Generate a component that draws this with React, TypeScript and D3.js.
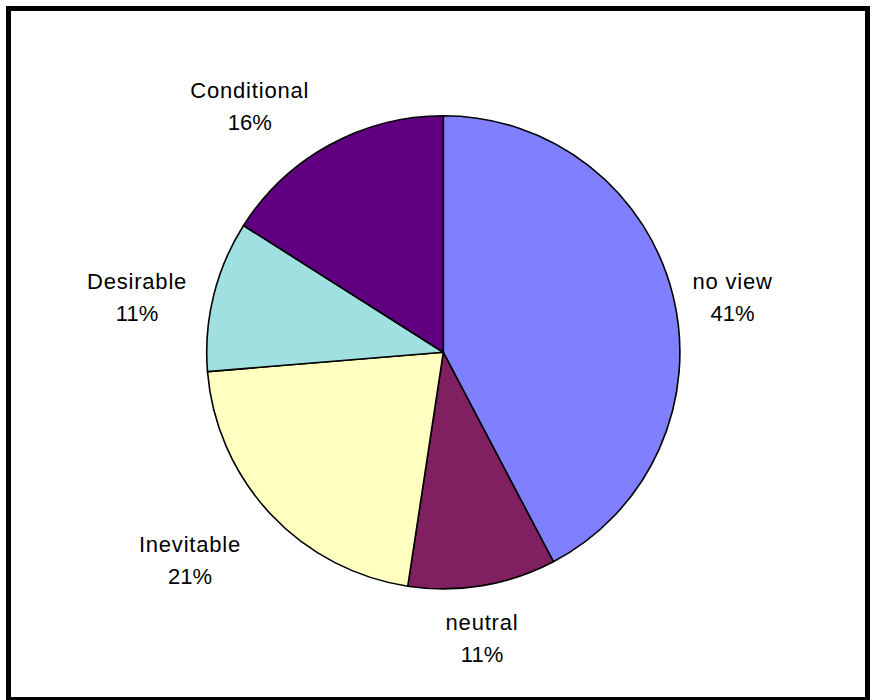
import React from "react";
import * as d3 from "d3";

const categories = ["no view", "neutral", "Inevitable", "Desirable", "Conditional"];
const values = [42.3, 10.1, 21.3, 10.3, 16.0];
const percentLabels = ["41%", "11%", "21%", "11%", "16%"];
const colors = ["#8080FF", "#802060", "#FFFFC0", "#A0E0E0", "#600080"];

const W = 874;
const H = 700;
const cx = 443.3;
const cy = 352.3;
const R = 236.6;
const labelR = 300;
// per-label nudges (px) relative to centroid at labelR
const nudges: [number, number][] = [
  [-2, 17],
  [-11, -10],
  [-34, 3],
  [-15, 17],
  [-49, 17],
];
const FONT = 22;
const LINE = 32;

export default function App() {
  const pie = d3.pie<number>().sort(null).value((d) => d);
  const arcs = pie(values);
  const arc = d3.arc<d3.PieArcDatum<number>>().innerRadius(0).outerRadius(R);
  const labelArc = d3.arc<d3.PieArcDatum<number>>().innerRadius(labelR).outerRadius(labelR);

  return (
    <svg
      width={W}
      height={H}
      style={{ position: "absolute", left: 0, top: 0, background: "#fff" }}
      fontFamily="'Liberation Sans', Arial, sans-serif"
    >
      <rect x={8.5} y={8.5} width={859} height={691} fill="#fff" stroke="#000" strokeWidth={5} />
      <g transform={`translate(${cx},${cy})`}>
        {arcs.map((a, i) => (
          <path key={i} d={arc(a) || ""} fill={colors[i]} stroke="#000" strokeWidth={1.6} strokeLinejoin="round" />
        ))}
        {arcs.map((a, i) => {
          const [x, y] = labelArc.centroid(a);
          const lx = x + nudges[i][0];
          const ly = y + nudges[i][1];
          return (
            <text key={"t" + i} textAnchor="middle" fontSize={FONT} fill="#000">
              <tspan x={lx} y={ly - LINE / 2 + FONT * 0.36} letterSpacing={0.8}>{categories[i]}</tspan>
              <tspan x={lx} y={ly + LINE / 2 + FONT * 0.36}>{percentLabels[i]}</tspan>
            </text>
          );
        })}
      </g>
    </svg>
  );
}
